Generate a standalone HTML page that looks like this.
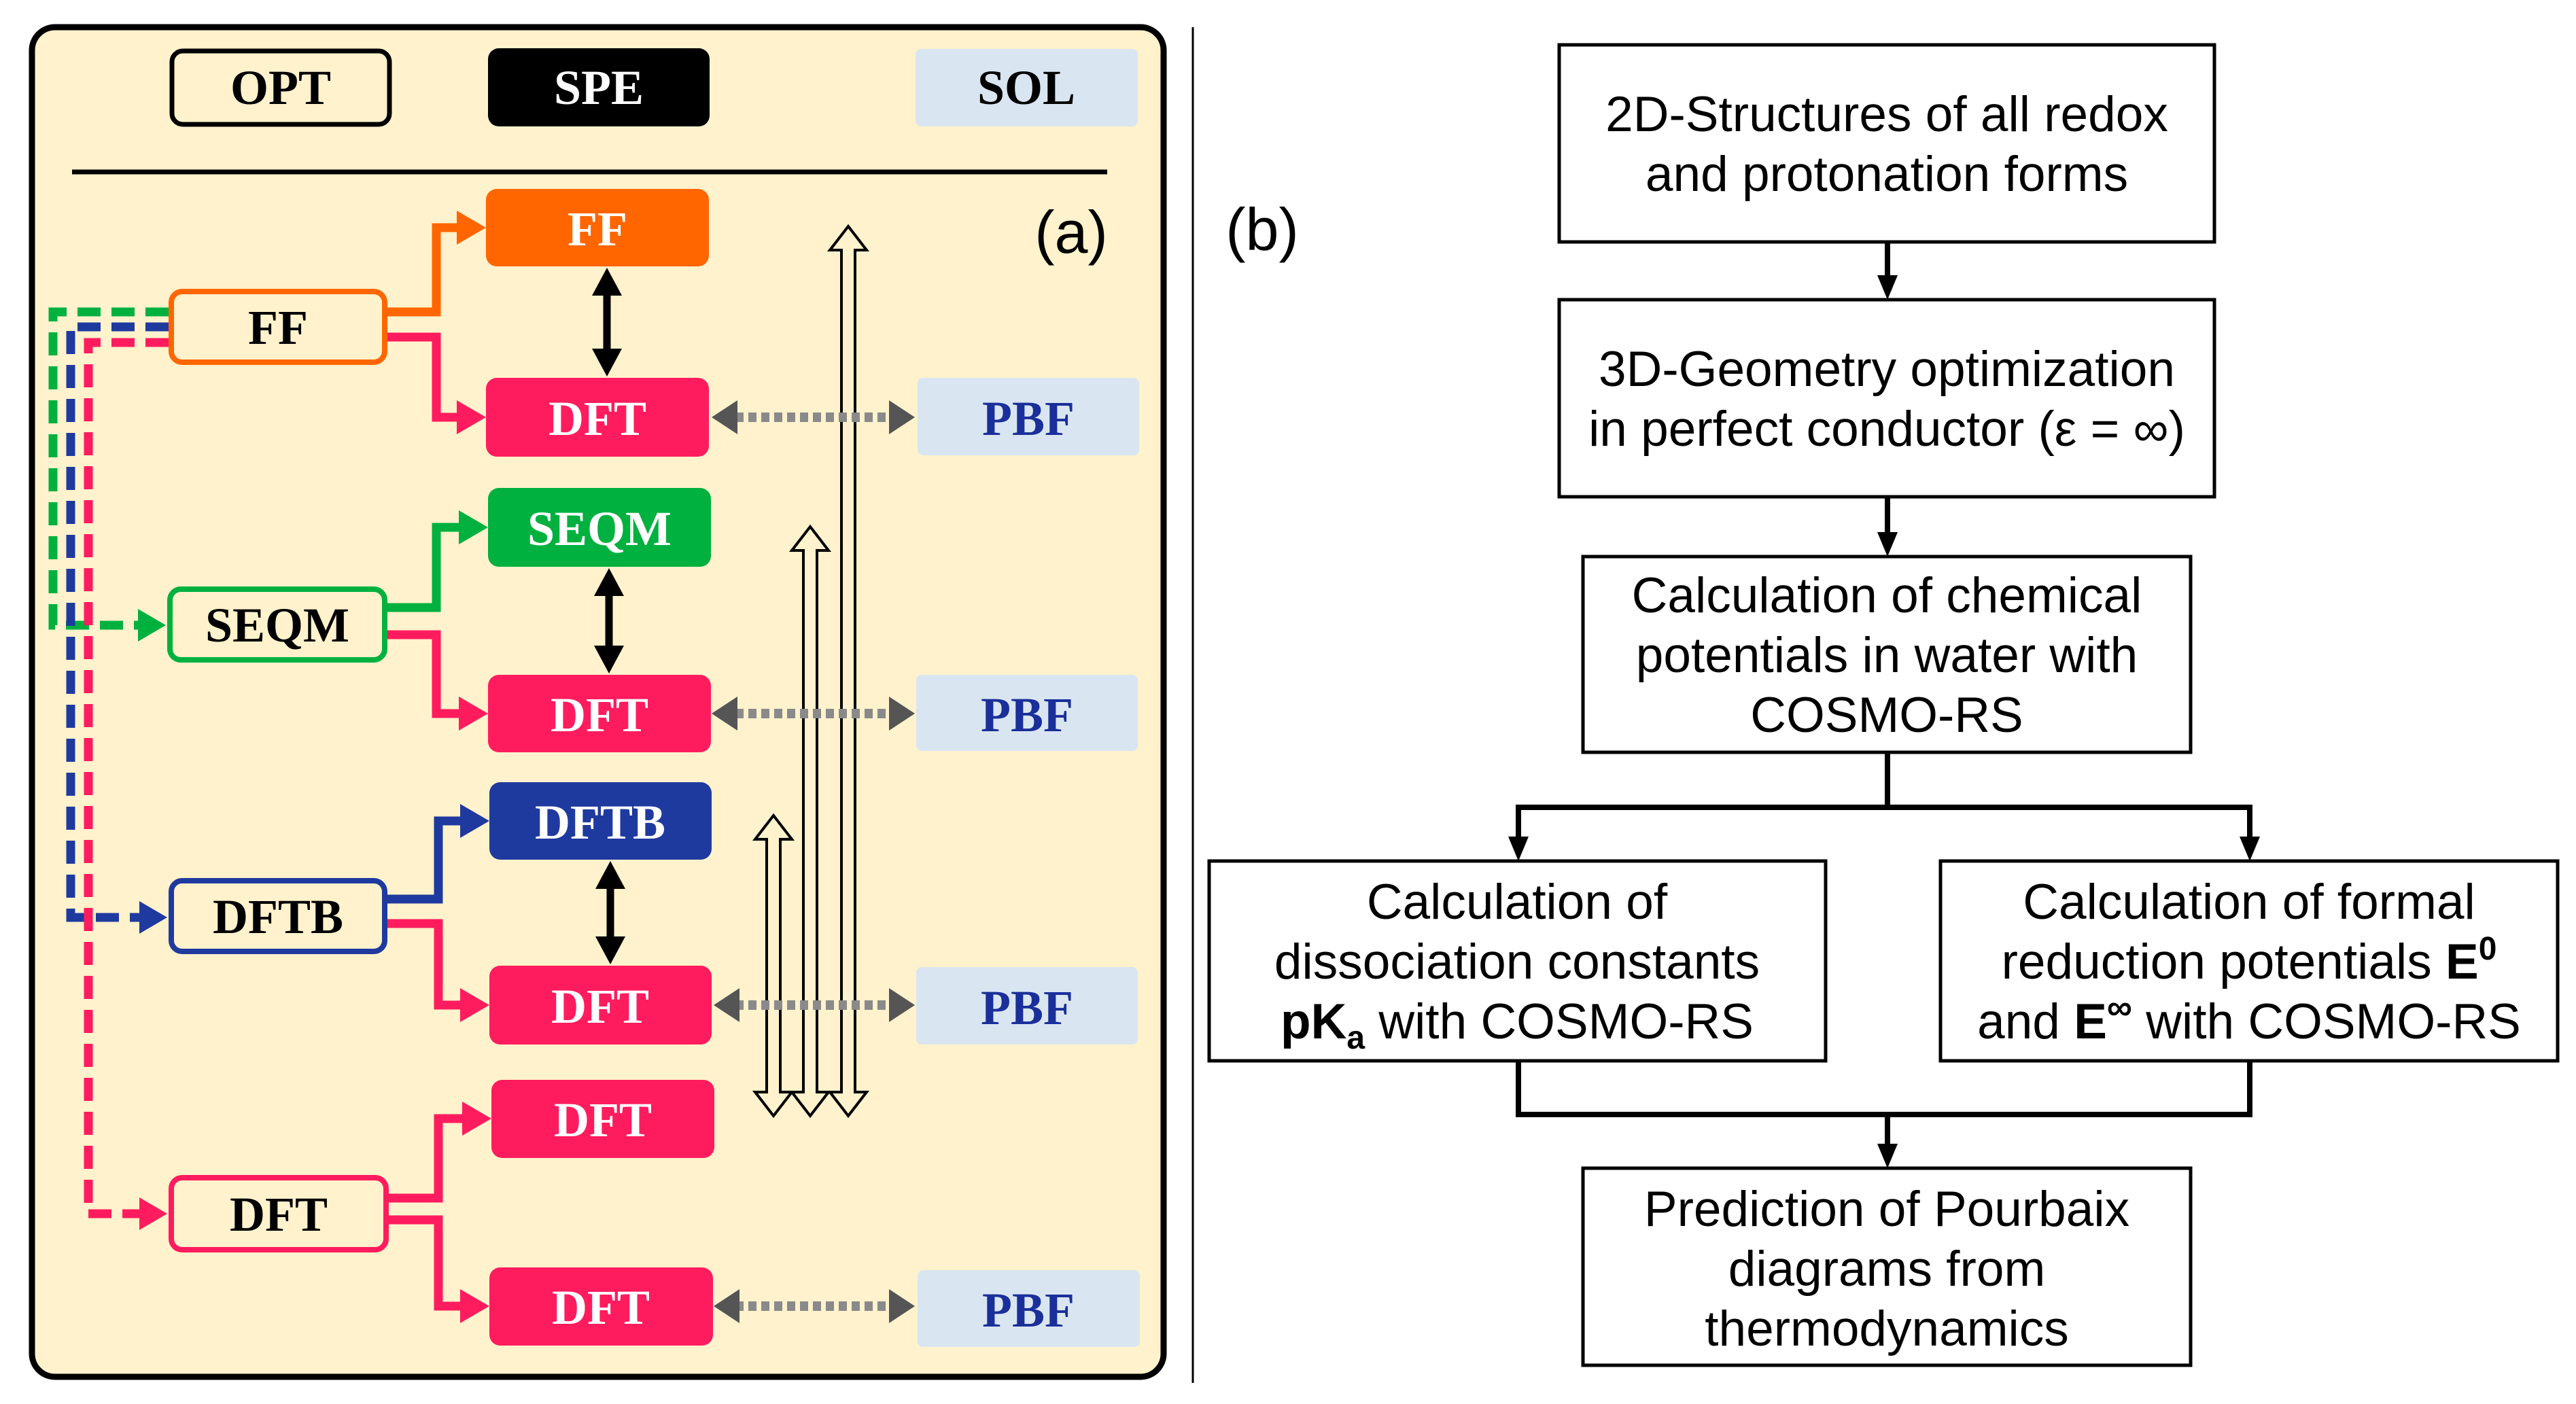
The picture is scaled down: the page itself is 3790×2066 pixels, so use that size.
<!DOCTYPE html>
<html><head><meta charset="utf-8"><style>
html,body{margin:0;padding:0;background:#fff;}
svg{display:block;}
.s{font-family:"Liberation Serif",serif;font-weight:bold;font-size:72px;}
.r{font-family:"Liberation Sans",sans-serif;font-size:73px;fill:#000;}
</style></head><body>
<svg width="3790" height="2066" viewBox="0 0 3790 2066" xmlns="http://www.w3.org/2000/svg">
<rect x="47" y="40" width="1665" height="1986" rx="34" fill="#fff2cc" stroke="#000" stroke-width="9"/>
<rect x="253" y="75" width="320" height="108" rx="16" fill="none" stroke="#000" stroke-width="7"/>
<text class="s" x="413" y="153" text-anchor="middle" font-size="72">OPT</text>
<rect x="718" y="71" width="326" height="115" rx="16" fill="#000"/>
<text class="s" x="881" y="153" text-anchor="middle" fill="#fff" font-size="72">SPE</text>
<rect x="1347" y="72" width="327" height="114" rx="8" fill="#d9e6f1"/>
<text class="s" x="1510" y="153" text-anchor="middle" font-size="72">SOL</text>
<line x1="106" y1="253" x2="1629" y2="253" stroke="#000" stroke-width="7"/>
<text x="1576" y="372" font-family="Liberation Sans,sans-serif" font-size="88" text-anchor="middle">(a)</text>

<g fill="#fff2cc" stroke="#000" stroke-width="4" stroke-linejoin="miter">
<polygon points="1248,333 1275,368 1258,368 1258,1607 1275,1607 1248,1642 1221,1607 1238,1607 1238,368 1221,368"/>
<polygon points="1192,775 1219,810 1202,810 1202,1607 1219,1607 1192,1642 1165,1607 1182,1607 1182,810 1165,810"/>
<polygon points="1138,1200 1165,1235 1148,1235 1148,1607 1165,1607 1138,1642 1111,1607 1128,1607 1128,1235 1111,1235"/>
</g>

<g stroke="#8a8a8a" stroke-width="14" stroke-dasharray="12 7">
<line x1="1082" y1="614" x2="1312" y2="614"/>
<line x1="1082" y1="1050" x2="1312" y2="1050"/>
<line x1="1082" y1="1479" x2="1312" y2="1479"/>
<line x1="1082" y1="1922" x2="1312" y2="1922"/>
</g>
<g fill="#555">
<polygon points="1047,614 1085,589 1085,639"/><polygon points="1346,614 1308,589 1308,639"/>
<polygon points="1047,1050 1085,1025 1085,1075"/><polygon points="1346,1050 1308,1025 1308,1075"/>
<polygon points="1050,1479 1088,1454 1088,1504"/><polygon points="1346,1479 1308,1454 1308,1504"/>
<polygon points="1050,1922 1088,1897 1088,1947"/><polygon points="1346,1922 1308,1897 1308,1947"/>
</g>

<rect x="715" y="278" width="328" height="114" rx="16" fill="#ff6600"/>
<text class="s" x="879" y="361" text-anchor="middle" fill="#fff">FF</text>
<rect x="715" y="556" width="328" height="116" rx="16" fill="#ff1c5e"/>
<text class="s" x="879" y="640" text-anchor="middle" fill="#fff">DFT</text>
<rect x="718" y="718" width="328" height="116" rx="16" fill="#00b140"/>
<text class="s" x="882" y="802" text-anchor="middle" fill="#fff">SEQM</text>
<rect x="718" y="993" width="328" height="114" rx="16" fill="#ff1c5e"/>
<text class="s" x="882" y="1076" text-anchor="middle" fill="#fff">DFT</text>
<rect x="720" y="1151" width="327" height="114" rx="16" fill="#1f3a9f"/>
<text class="s" x="883" y="1234" text-anchor="middle" fill="#fff">DFTB</text>
<rect x="720" y="1421" width="327" height="116" rx="16" fill="#ff1c5e"/>
<text class="s" x="883" y="1505" text-anchor="middle" fill="#fff">DFT</text>
<rect x="723" y="1589" width="328" height="115" rx="16" fill="#ff1c5e"/>
<text class="s" x="887" y="1672" text-anchor="middle" fill="#fff">DFT</text>
<rect x="720" y="1865" width="329" height="115" rx="16" fill="#ff1c5e"/>
<text class="s" x="884" y="1948" text-anchor="middle" fill="#fff">DFT</text>

<g fill="#d9e6f1">
<rect x="1350" y="556" width="326" height="114" rx="8"/>
<rect x="1348" y="993" width="326" height="112" rx="8"/>
<rect x="1348" y="1423" width="326" height="114" rx="8"/>
<rect x="1350" y="1869" width="327" height="113" rx="8"/>
</g>
<g class="s" fill="#1a2f9a" text-anchor="middle">
<text x="1513" y="640">PBF</text>
<text x="1511" y="1076">PBF</text>
<text x="1511" y="1507">PBF</text>
<text x="1513" y="1952">PBF</text>
</g>

<g stroke="#000" stroke-width="11">
<line x1="893" y1="425" x2="893" y2="523"/>
<line x1="896" y1="868" x2="896" y2="960"/>
<line x1="898" y1="1298" x2="898" y2="1388"/>
</g>
<g fill="#000">
<polygon points="893,394 871,435 915,435"/><polygon points="893,554 871,513 915,513"/>
<polygon points="896,836 874,877 918,877"/><polygon points="896,991 874,950 918,950"/>
<polygon points="898,1267 876,1308 920,1308"/><polygon points="898,1419 876,1378 920,1378"/>
</g>

<g fill="none" stroke-width="13" stroke-linejoin="miter">
<path d="M565,459 H642 V335 H682" stroke="#ff6600"/>
<path d="M565,496 H642 V614 H682" stroke="#ff1c5e"/>
<path d="M565,894 H642 V776 H685" stroke="#00b140"/>
<path d="M565,934 H642 V1050 H685" stroke="#ff1c5e"/>
<path d="M565,1323 H645 V1208 H687" stroke="#1f3a9f"/>
<path d="M565,1359 H645 V1479 H687" stroke="#ff1c5e"/>
<path d="M567,1763 H645 V1646 H690" stroke="#ff1c5e"/>
<path d="M567,1795 H645 V1922 H687" stroke="#ff1c5e"/>
</g>
<polygon points="672,310 715,335 672,360" fill="#ff6600"/>
<polygon points="672,589 715,614 672,639" fill="#ff1c5e"/>
<polygon points="675,751 718,776 675,801" fill="#00b140"/>
<polygon points="675,1025 718,1050 675,1075" fill="#ff1c5e"/>
<polygon points="677,1183 720,1208 677,1233" fill="#1f3a9f"/>
<polygon points="677,1454 720,1479 677,1504" fill="#ff1c5e"/>
<polygon points="680,1621 723,1646 680,1671" fill="#ff1c5e"/>
<polygon points="677,1897 720,1922 677,1947" fill="#ff1c5e"/>

<g fill="none" stroke-width="13" stroke-dasharray="34 16">
<path d="M248,459 H78 V920 H210" stroke="#00b140"/>
<path d="M248,481 H104 V1350 H210" stroke="#1f3a9f"/>
<path d="M248,504 H130 V1786 H212" stroke="#ff1c5e"/>
</g>
<polygon points="203,896 244,920 203,944" fill="#00b140"/>
<polygon points="205,1326 246,1350 205,1374" fill="#1f3a9f"/>
<polygon points="205,1762 246,1786 205,1810" fill="#ff1c5e"/>

<g fill="#fff2cc" stroke-width="8">
<rect x="252" y="429" width="314" height="104" rx="16" stroke="#ff6600"/>
<rect x="250" y="867" width="316" height="104" rx="16" stroke="#00b140"/>
<rect x="252" y="1296" width="314" height="104" rx="16" stroke="#1f3a9f"/>
<rect x="252" y="1733" width="316" height="106" rx="16" stroke="#ff1c5e"/>
</g>
<g class="s" text-anchor="middle">
<text x="409" y="506">FF</text>
<text x="408" y="944">SEQM</text>
<text x="409" y="1373">DFTB</text>
<text x="410" y="1811">DFT</text>
</g>

<line x1="1755" y1="40" x2="1755" y2="2035" stroke="#000" stroke-width="3"/>
<text x="1857" y="368" font-family="Liberation Sans,sans-serif" font-size="88" text-anchor="middle">(b)</text>

<g fill="#fff" stroke="#000" stroke-width="5">
<rect x="2294" y="66" width="964" height="290"/>
<rect x="2294" y="441" width="964" height="290"/>
<rect x="2329" y="819" width="894" height="288"/>
<rect x="1779" y="1267" width="907" height="294"/>
<rect x="2855" y="1267" width="908" height="294"/>
<rect x="2329" y="1719" width="894" height="290"/>
</g>
<g class="r" text-anchor="middle">
<text x="2776" y="193">2D-Structures of all redox</text>
<text x="2776" y="281">and protonation forms</text>
<text x="2776" y="568">3D-Geometry optimization</text>
<text x="2776" y="656">in perfect conductor (ε = ∞)</text>
<text x="2776" y="901">Calculation of chemical</text>
<text x="2776" y="989">potentials in water with</text>
<text x="2776" y="1077">COSMO-RS</text>
<text x="2232" y="1352">Calculation of</text>
<text x="2232" y="1440">dissociation constants</text>
<text x="2232" y="1528"><tspan font-weight="bold">pK</tspan><tspan font-weight="bold" font-size="48" dy="15">a</tspan><tspan dy="-15"> with COSMO-RS</tspan></text>
<text x="3309" y="1352">Calculation of formal</text>
<text x="3309" y="1440">reduction potentials <tspan font-weight="bold">E</tspan><tspan font-weight="bold" font-size="48" dy="-28">0</tspan></text>
<text x="3309" y="1528">and <tspan font-weight="bold">E</tspan><tspan font-weight="bold" font-size="52" dy="-28">∞</tspan><tspan dy="28"> with COSMO-RS</tspan></text>
<text x="2776" y="1804">Prediction of Pourbaix</text>
<text x="2776" y="1892">diagrams from</text>
<text x="2776" y="1980">thermodynamics</text>
</g>
<g fill="none" stroke="#000" stroke-width="8">
<line x1="2777" y1="356" x2="2777" y2="410"/>
<line x1="2777" y1="731" x2="2777" y2="788"/>
<path d="M2777,1107 V1188 M2230,1188 H3314 M2234,1188 V1236 M3310,1188 V1236"/>
<path d="M2234,1561 V1640 H3310 V1561 M2777,1640 V1688"/>
</g>
<g fill="#000">
<polygon points="2762,405 2792,405 2777,441"/>
<polygon points="2762,783 2792,783 2777,819"/>
<polygon points="2219,1231 2249,1231 2234,1267"/>
<polygon points="3295,1231 3325,1231 3310,1267"/>
<polygon points="2762,1683 2792,1683 2777,1719"/>
</g>
</svg>
</body></html>
